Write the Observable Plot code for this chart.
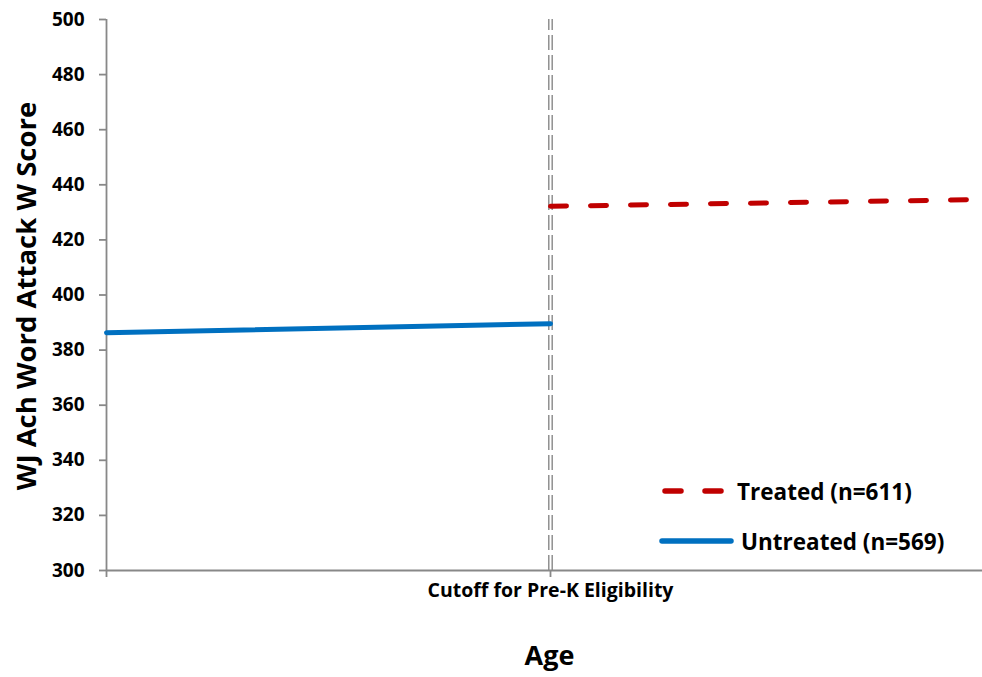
<!DOCTYPE html>
<html>
<head>
<meta charset="utf-8">
<script src="https://cdn.jsdelivr.net/npm/d3@7"></script>
<script src="https://cdn.jsdelivr.net/npm/@observablehq/plot@0.6"></script>
<style>
  html, body { margin: 0; padding: 0; background: #fff; }
  #wrap { position: relative; width: 982px; height: 677px; font-family: "Open Sans", sans-serif; }
  #legend { position: absolute; left: 657px; top: 466px; font-weight: bold; font-size: 22.5px; color: #000; }
  #legend .row { display: flex; align-items: center; height: 50px; }
  #legend svg { margin-right: 4px; }
</style>
</head>
<body>
<div id="wrap">
  <div id="chart"></div>
  <div id="legend"></div>
</div>
<script>
// Age relative to the Pre-K eligibility cutoff (0 = cutoff)
const untreatedAge = [-1, 0];
const untreatedScore = [386.3, 389.6];
const treatedAge = [0, 0.96];
const treatedScore = [432.2, 434.6];
const yTicks = [300, 320, 340, 360, 380, 400, 420, 440, 460, 480, 500];
const xTicks = [-1, 0];
const xTickLabels = ["", "Cutoff for Pre-K Eligibility"];
const seriesNames = ["Treated (n=611)", "Untreated (n=569)"];
const seriesColors = ["#C00000", "#0070C0"];

const untreated = untreatedAge.map((a, i) => ({age: a, score: untreatedScore[i]}));
const treated = treatedAge.map((a, i) => ({age: a, score: treatedScore[i]}));

const grey = "#888888";
const font = "'Open Sans', sans-serif";

const chart = Plot.plot({
  width: 982,
  height: 677,
  marginLeft: 106,
  marginRight: 0,
  marginTop: 19,
  marginBottom: 107,
  style: {fontFamily: font, background: "#fff"},
  x: {domain: [-1, 0.973], axis: null},
  y: {domain: [300, 500], axis: null},
  marks: [
    // cutoff double dashed line
    Plot.ruleX([0], {y1: 300, y2: 500, dx: -1.7, stroke: grey, strokeWidth: 1.4, strokeDasharray: "15,5"}),
    Plot.ruleX([0], {y1: 300, y2: 500, dx: 1.7, stroke: grey, strokeWidth: 1.4, strokeDasharray: "15,5"}),
    // axes lines
    Plot.ruleX([-1], {y1: 300, y2: 500, stroke: grey, strokeWidth: 1.8}),
    Plot.ruleY([300], {stroke: grey, strokeWidth: 1.8}),
    Plot.axisY({ticks: yTicks, tickSize: 7, stroke: grey, strokeWidth: 1.8, tickFormat: () => "", label: null}),
    Plot.axisX({ticks: xTicks, tickSize: 7, stroke: grey, strokeWidth: 1.8, tickFormat: () => "", label: null}),
    // tick labels
    Plot.text(yTicks, {x: -1, y: (d) => d, dx: -22, textAnchor: "end", fontSize: 19, fontWeight: "bold", fill: "#000"}),
    Plot.text(xTicks, {x: (d) => d, y: 300, text: (d, i) => xTickLabels[i], dy: 20, fontSize: 19.5, fontWeight: "bold", fill: "#000"}),
    // series
    Plot.line(untreated, {x: "age", y: "score", stroke: seriesColors[1], strokeWidth: 5, strokeLinecap: "round"}),
    Plot.line(treated, {x: "age", y: "score", stroke: seriesColors[0], strokeWidth: 5, strokeLinecap: "round", strokeDasharray: "16,24"}),
    // axis titles
    Plot.text(["WJ Ach Word Attack W Score"], {frameAnchor: "left", textAnchor: "middle", dx: -79, dy: 1, rotate: -90, fontSize: 27.5, fontWeight: "bold", fill: "#000"}),
    Plot.text(["Age"], {frameAnchor: "bottom", dx: 5, dy: 94, fontSize: 27, fontWeight: "bold", fill: "#000"})
  ]
});
document.getElementById("chart").appendChild(chart);

// legend
const legend = document.getElementById("legend");
seriesNames.forEach((name, i) => {
  const row = document.createElement("div");
  row.className = "row";
  const dash = i === 0 ? 'stroke-dasharray="16,24" stroke-dashoffset="-3"' : "";
  const w = i === 0 ? 76 : 80;
  row.innerHTML = `<svg width="${w}" height="12"><line x1="5" y1="6" x2="${w - 6}" y2="6" stroke="${seriesColors[i]}" stroke-width="5.5" stroke-linecap="round" ${dash}/></svg><span>${name}</span>`;
  legend.appendChild(row);
});
</script>
</body>
</html>
